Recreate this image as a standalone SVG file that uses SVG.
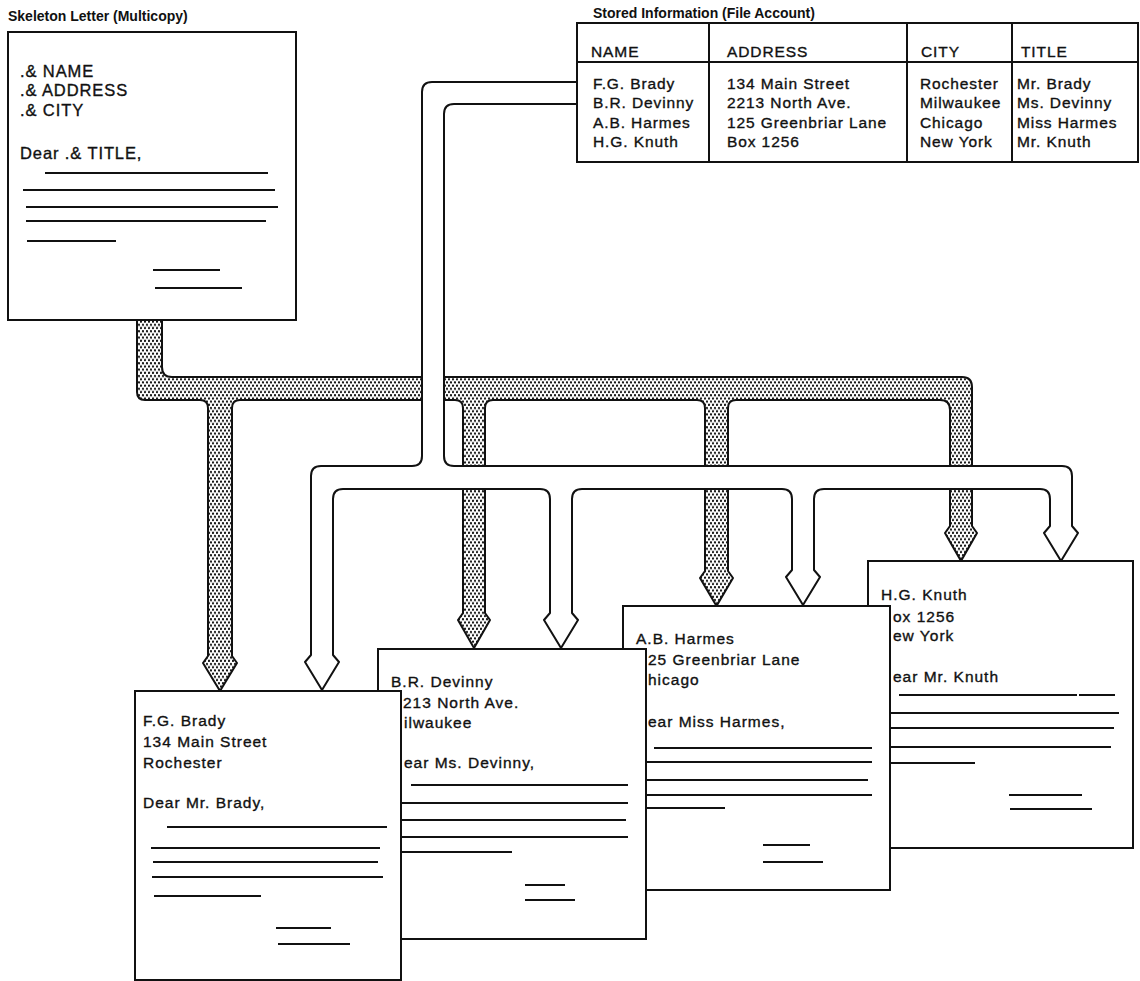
<svg xmlns="http://www.w3.org/2000/svg" width="1140" height="981" viewBox="0 0 1140 981">
<style>
.t{font-family:"Liberation Sans",Arial,sans-serif;font-size:15.5px;letter-spacing:1px;fill:#111;stroke:#111;stroke-width:0.35}
.sk{font-family:"Liberation Sans",Arial,sans-serif;font-size:16.5px;letter-spacing:0.9px;fill:#111;stroke:#111;stroke-width:0.35}
.tb{font-family:"Liberation Sans",Arial,sans-serif;font-size:15.5px;letter-spacing:0.9px;fill:#111;stroke:#111;stroke-width:0.35}
.ttl{font-family:"Liberation Sans",Arial,sans-serif;font-size:14px;font-weight:bold;fill:#111}
.box{fill:#fff;stroke:#111;stroke-width:2}
.ln{stroke:#111;stroke-width:2;fill:none}
.pipe{stroke:#111;stroke-width:2;stroke-linejoin:round}
</style>
<defs>
<pattern id="dots" width="4" height="6.4" patternUnits="userSpaceOnUse">
<rect width="4" height="6.4" fill="#fff"/>
<circle cx="1" cy="1.6" r="1.15" fill="#111"/>
<circle cx="3" cy="4.8" r="1.15" fill="#111"/>
</pattern>
</defs>

<g id="connectors">
<path class="pipe" fill="url(#dots)" d="M137 320 L137 392 Q137 400 145 400 L200 400 Q208 400 208 408 L208 656 L203 663 L220 691 L237 663 L232 656 L232 408 Q232 400 240 400 L455 400 Q463 400 463 408 L463 613 L458 620 L474 648 L490 620 L485 613 L485 408 Q485 400 493 400 L697 400 Q705 400 705 408 L705 571 L700 578 L716.5 606 L733 578 L728 571 L728 408 Q728 400 736 400 L940 400 Q950 400 950 410 L950 526 L945 533 L961 561 L977 533 L972 526 L972 387 Q972 377 962 377 L172 377 Q162 377 162 367 L162 320 Z"/>
<path class="pipe" fill="#fff" d="M577 82 L432 82 Q422 82 422 92 L422 456 Q422 466 412 466 L321 466 Q311 466 311 476 L311 655 L305 662 L322 690 L339 662 L333 655 L333 499 Q333 489 343 489 L540 489 Q550 489 550 499 L550 613 L544 620 L561 648 L578 620 L572 613 L572 499 Q572 489 582 489 L782 489 Q792 489 792 499 L792 570 L786 577 L803 605 L820 577 L814 570 L814 499 Q814 489 824 489 L1040 489 Q1050 489 1050 499 L1050 526 L1044 533 L1061 561 L1078 533 L1072 526 L1072 476 Q1072 466 1062 466 L454 466 Q444 466 444 456 L444 114 Q444 104 454 104 L577 104 Z"/>
</g>

<g id="skeleton-letter">
<text class="ttl" x="8" y="21">Skeleton Letter (Multicopy)</text>
<rect class="box" x="8" y="32" width="288" height="288"/>
<text class="sk" x="20" y="77">.&amp; NAME</text>
<text class="sk" x="20" y="96">.&amp; ADDRESS</text>
<text class="sk" x="20" y="116">.&amp; CITY</text>
<text class="sk" x="20" y="159">Dear .&amp; TITLE,</text>
<path class="ln" d="M45 173H268M23 190H275M26 207H278M26 221H266M27 241H116M153 270H220M155 288H242"/>
</g>

<g id="stored-information">
<text class="ttl" x="593" y="18">Stored Information (File Account)</text>
<rect class="box" x="577" y="23" width="561" height="139"/>
<path class="ln" d="M577 62H1138M709 23V162M907 23V162M1012 23V162"/>
<text class="tb" x="591" y="57">NAME</text>
<text class="tb" x="727" y="57">ADDRESS</text>
<text class="tb" x="921" y="57">CITY</text>
<text class="tb" x="1021" y="57">TITLE</text>
<text class="tb" x="593" y="89">F.G. Brady</text>
<text class="tb" x="593" y="108">B.R. Devinny</text>
<text class="tb" x="593" y="128">A.B. Harmes</text>
<text class="tb" x="593" y="147">H.G. Knuth</text>
<text class="tb" x="727" y="89">134 Main Street</text>
<text class="tb" x="727" y="108">2213 North Ave.</text>
<text class="tb" x="727" y="128">125 Greenbriar Lane</text>
<text class="tb" x="727" y="147">Box 1256</text>
<text class="tb" x="920" y="89">Rochester</text>
<text class="tb" x="920" y="108">Milwaukee</text>
<text class="tb" x="920" y="128">Chicago</text>
<text class="tb" x="920" y="147">New York</text>
<text class="tb" x="1017" y="89">Mr. Brady</text>
<text class="tb" x="1017" y="108">Ms. Devinny</text>
<text class="tb" x="1017" y="128">Miss Harmes</text>
<text class="tb" x="1017" y="147">Mr. Knuth</text>
</g>

<g id="letter-knuth">
<rect class="box" x="868" y="561" width="265" height="287"/>
<text class="t" x="881" y="600">H.G. Knuth</text>
<text class="t" x="893" y="622">ox 1256</text>
<text class="t" x="893" y="641">ew York</text>
<text class="t" x="893" y="682">ear Mr. Knuth</text>
<path class="ln" d="M899 695H1077M1079 695H1115M890 713H1119M890 728H1114M890 747H1111M890 763H975M1009 795H1082M1010 809H1092"/>
</g>

<g id="letter-harmes">
<rect class="box" x="623" y="606" width="267" height="284"/>
<text class="t" x="636" y="644">A.B. Harmes</text>
<text class="t" x="648" y="665">25 Greenbriar Lane</text>
<text class="t" x="648" y="685">hicago</text>
<text class="t" x="648" y="727">ear Miss Harmes,</text>
<path class="ln" d="M654 748H872M646 762H872M646 780H868M646 795H872M646 808H725M763 845H810M763 862H823"/>
</g>

<g id="letter-devinny">
<rect class="box" x="378" y="649" width="268" height="290"/>
<text class="t" x="391" y="687">B.R. Devinny</text>
<text class="t" x="403" y="708">213 North Ave.</text>
<text class="t" x="404" y="728">ilwaukee</text>
<text class="t" x="404" y="768">ear Ms. Devinny,</text>
<path class="ln" d="M411 785H628M401 803H628M401 820H626M401 837H628M401 852H512M525 885H565M525 900H575"/>
</g>

<g id="letter-brady">
<rect class="box" x="135" y="691" width="266" height="289"/>
<text class="t" x="143" y="726">F.G. Brady</text>
<text class="t" x="143" y="747">134 Main Street</text>
<text class="t" x="143" y="768">Rochester</text>
<text class="t" x="143" y="808">Dear Mr. Brady,</text>
<path class="ln" d="M167 827H387M151 848H380M153 862H378M152 877H383M154 896H261M276 928H331M278 944H350"/>
</g>
</svg>
